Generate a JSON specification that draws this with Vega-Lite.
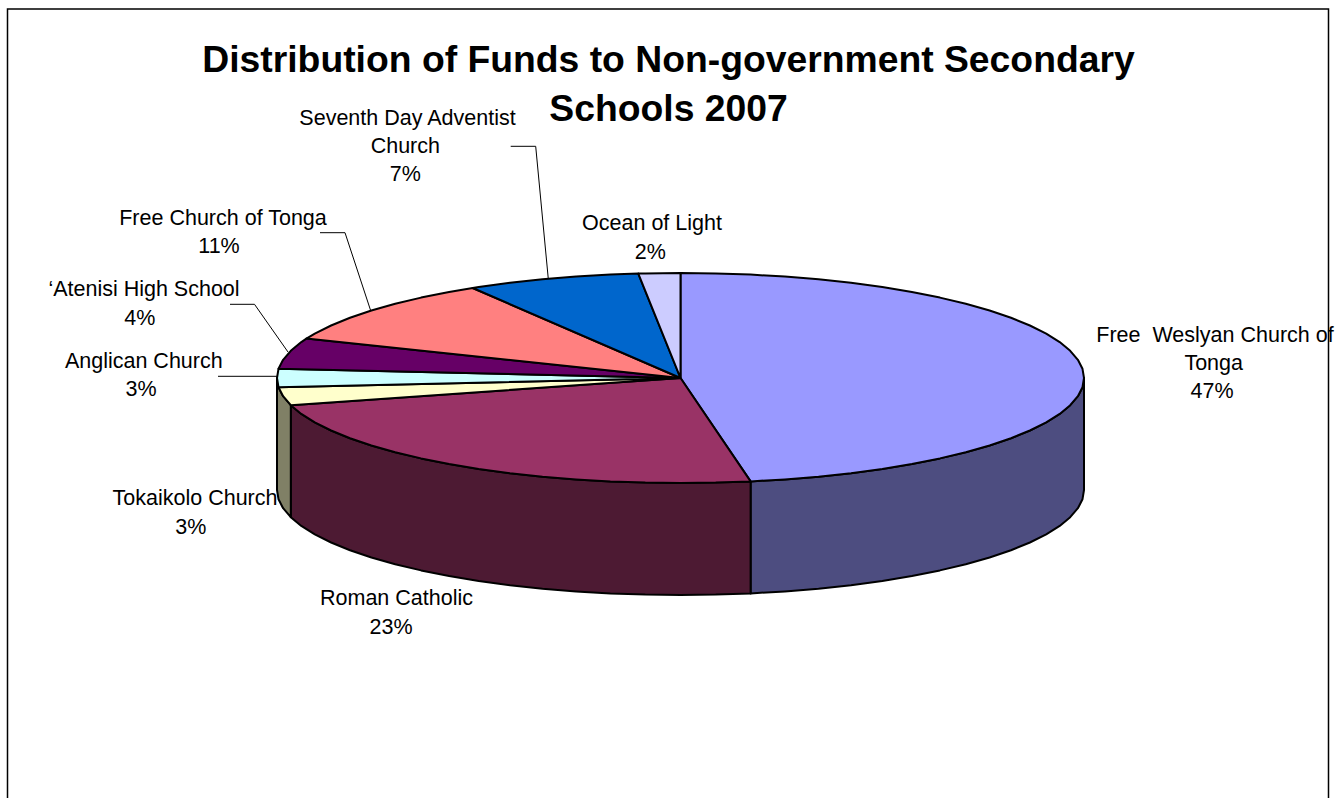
{"$schema":"https://vega.github.io/schema/vega-lite/v6.json","width":1341,"height":798,"padding":0,"autosize":"none","background":"white","config":{"view":{"stroke":null},"font":"Liberation Sans"},"title":{"text":["Distribution of Funds to Non-government Secondary","Schools 2007"],"font":"Liberation Sans","fontSize":37.3,"fontWeight":"bold","color":"#000000","lineHeight":49,"anchor":"middle","baseline":"alphabetic","frame":"group","offset":0,"dy":158,"dx":-2},"resolve":{"scale":{"fill":"independent"}},"encoding":{"x":{"field":"x","type":"quantitative","scale":{"domain":[0,1341],"nice":false,"zero":false},"axis":null},"y":{"field":"y","type":"quantitative","stack":null,"scale":{"domain":[798,0],"nice":false,"zero":false},"axis":null}},"layer":[{"data":{"values":[{"x":7.5,"y":798,"i":1},{"x":7.5,"y":9,"i":2},{"x":1328.5,"y":9,"i":3},{"x":1328.5,"y":798,"i":4}]},"mark":{"type":"line","stroke":"#000000","strokeWidth":1.5},"encoding":{"order":{"field":"i"}}},
{"data":{"values":[
{"s":"Free Weslyan side","x":1084,"y":378,"y2":490},{"s":"Free Weslyan side","x":1082.5,"y":387.2,"y2":499.2},{"s":"Free Weslyan side","x":1077.9,"y":396.2,"y2":508.2},{"s":"Free Weslyan side","x":1070.2,"y":405.2,"y2":517.2},{"s":"Free Weslyan side","x":1059.7,"y":413.9,"y2":525.9},{"s":"Free Weslyan side","x":1046.2,"y":422.4,"y2":534.4},{"s":"Free Weslyan side","x":1029.9,"y":430.5,"y2":542.5},{"s":"Free Weslyan side","x":1011,"y":438.2,"y2":550.2},{"s":"Free Weslyan side","x":989.6,"y":445.5,"y2":557.5},{"s":"Free Weslyan side","x":965.8,"y":452.2,"y2":564.2},{"s":"Free Weslyan side","x":939.9,"y":458.4,"y2":570.4},{"s":"Free Weslyan side","x":911.9,"y":464,"y2":576},{"s":"Free Weslyan side","x":882.3,"y":468.9,"y2":580.9},{"s":"Free Weslyan side","x":851,"y":473.2,"y2":585.2},{"s":"Free Weslyan side","x":818.5,"y":476.7,"y2":588.7},{"s":"Free Weslyan side","x":784.9,"y":479.4,"y2":591.4},{"s":"Free Weslyan side","x":750.6,"y":481.4,"y2":593.4},
{"s":"Roman Catholic side","x":750.6,"y":481.4,"y2":593.4},{"s":"Roman Catholic side","x":715.7,"y":482.6,"y2":594.6},{"s":"Roman Catholic side","x":680.5,"y":483,"y2":595},{"s":"Roman Catholic side","x":645.3,"y":482.6,"y2":594.6},{"s":"Roman Catholic side","x":610.4,"y":481.4,"y2":593.4},{"s":"Roman Catholic side","x":576.1,"y":479.4,"y2":591.4},{"s":"Roman Catholic side","x":542.5,"y":476.7,"y2":588.7},{"s":"Roman Catholic side","x":510,"y":473.2,"y2":585.2},{"s":"Roman Catholic side","x":478.7,"y":468.9,"y2":580.9},{"s":"Roman Catholic side","x":449.1,"y":464,"y2":576},{"s":"Roman Catholic side","x":421.1,"y":458.4,"y2":570.4},{"s":"Roman Catholic side","x":395.2,"y":452.2,"y2":564.2},{"s":"Roman Catholic side","x":371.4,"y":445.5,"y2":557.5},{"s":"Roman Catholic side","x":350,"y":438.2,"y2":550.2},{"s":"Roman Catholic side","x":331.1,"y":430.5,"y2":542.5},{"s":"Roman Catholic side","x":314.8,"y":422.4,"y2":534.4},{"s":"Roman Catholic side","x":301.3,"y":413.9,"y2":525.9},{"s":"Roman Catholic side","x":290.8,"y":405.2,"y2":517.2},
{"s":"Tokaikolo side","x":290.8,"y":405.2,"y2":517.2},{"s":"Tokaikolo side","x":283.1,"y":396.2,"y2":508.2},{"s":"Tokaikolo side","x":278.5,"y":387.2,"y2":499.2},{"s":"Tokaikolo side","x":277,"y":378,"y2":490}
]},"mark":{"type":"area","stroke":"#000000","strokeWidth":2,"strokeJoin":"round"},"encoding":{"y2":{"field":"y2"},"fill":{"field":"s","type":"nominal","scale":{"domain":["Free Weslyan side","Roman Catholic side","Tokaikolo side"],"range":["#4D4D80","#4D1A33","#808066"]},"legend":null}}},
{"data":{"values":[
{"s":"Free Weslyan Church of Tonga","i":0,"x":680.5,"y":378},{"s":"Free Weslyan Church of Tonga","i":1,"x":680.5,"y":273},{"s":"Free Weslyan Church of Tonga","i":2,"x":715.7,"y":273.4},{"s":"Free Weslyan Church of Tonga","i":3,"x":750.6,"y":274.6},{"s":"Free Weslyan Church of Tonga","i":4,"x":784.9,"y":276.6},{"s":"Free Weslyan Church of Tonga","i":5,"x":818.5,"y":279.3},{"s":"Free Weslyan Church of Tonga","i":6,"x":851,"y":282.8},{"s":"Free Weslyan Church of Tonga","i":7,"x":882.3,"y":287.1},{"s":"Free Weslyan Church of Tonga","i":8,"x":911.9,"y":292},{"s":"Free Weslyan Church of Tonga","i":9,"x":939.9,"y":297.6},{"s":"Free Weslyan Church of Tonga","i":10,"x":965.8,"y":303.8},{"s":"Free Weslyan Church of Tonga","i":11,"x":989.6,"y":310.5},{"s":"Free Weslyan Church of Tonga","i":12,"x":1011,"y":317.8},{"s":"Free Weslyan Church of Tonga","i":13,"x":1029.9,"y":325.5},{"s":"Free Weslyan Church of Tonga","i":14,"x":1046.2,"y":333.6},{"s":"Free Weslyan Church of Tonga","i":15,"x":1059.7,"y":342.1},{"s":"Free Weslyan Church of Tonga","i":16,"x":1070.2,"y":350.8},{"s":"Free Weslyan Church of Tonga","i":17,"x":1077.9,"y":359.8},{"s":"Free Weslyan Church of Tonga","i":18,"x":1082.5,"y":368.8},{"s":"Free Weslyan Church of Tonga","i":19,"x":1084,"y":378},{"s":"Free Weslyan Church of Tonga","i":20,"x":1082.5,"y":387.2},{"s":"Free Weslyan Church of Tonga","i":21,"x":1077.9,"y":396.2},{"s":"Free Weslyan Church of Tonga","i":22,"x":1070.2,"y":405.2},{"s":"Free Weslyan Church of Tonga","i":23,"x":1059.7,"y":413.9},{"s":"Free Weslyan Church of Tonga","i":24,"x":1046.2,"y":422.4},{"s":"Free Weslyan Church of Tonga","i":25,"x":1029.9,"y":430.5},{"s":"Free Weslyan Church of Tonga","i":26,"x":1011,"y":438.2},{"s":"Free Weslyan Church of Tonga","i":27,"x":989.6,"y":445.5},{"s":"Free Weslyan Church of Tonga","i":28,"x":965.8,"y":452.2},{"s":"Free Weslyan Church of Tonga","i":29,"x":939.9,"y":458.4},{"s":"Free Weslyan Church of Tonga","i":30,"x":911.9,"y":464},{"s":"Free Weslyan Church of Tonga","i":31,"x":882.3,"y":468.9},{"s":"Free Weslyan Church of Tonga","i":32,"x":851,"y":473.2},{"s":"Free Weslyan Church of Tonga","i":33,"x":818.5,"y":476.7},{"s":"Free Weslyan Church of Tonga","i":34,"x":784.9,"y":479.4},{"s":"Free Weslyan Church of Tonga","i":35,"x":750.6,"y":481.4},{"s":"Free Weslyan Church of Tonga","i":36,"x":680.5,"y":378},
{"s":"Roman Catholic","i":0,"x":680.5,"y":378},{"s":"Roman Catholic","i":1,"x":750.6,"y":481.4},{"s":"Roman Catholic","i":2,"x":715.7,"y":482.6},{"s":"Roman Catholic","i":3,"x":680.5,"y":483},{"s":"Roman Catholic","i":4,"x":645.3,"y":482.6},{"s":"Roman Catholic","i":5,"x":610.4,"y":481.4},{"s":"Roman Catholic","i":6,"x":576.1,"y":479.4},{"s":"Roman Catholic","i":7,"x":542.5,"y":476.7},{"s":"Roman Catholic","i":8,"x":510,"y":473.2},{"s":"Roman Catholic","i":9,"x":478.7,"y":468.9},{"s":"Roman Catholic","i":10,"x":449.1,"y":464},{"s":"Roman Catholic","i":11,"x":421.1,"y":458.4},{"s":"Roman Catholic","i":12,"x":395.2,"y":452.2},{"s":"Roman Catholic","i":13,"x":371.4,"y":445.5},{"s":"Roman Catholic","i":14,"x":350,"y":438.2},{"s":"Roman Catholic","i":15,"x":331.1,"y":430.5},{"s":"Roman Catholic","i":16,"x":314.8,"y":422.4},{"s":"Roman Catholic","i":17,"x":301.3,"y":413.9},{"s":"Roman Catholic","i":18,"x":290.8,"y":405.2},{"s":"Roman Catholic","i":19,"x":680.5,"y":378},
{"s":"Tokaikolo Church","i":0,"x":680.5,"y":378},{"s":"Tokaikolo Church","i":1,"x":290.8,"y":405.2},{"s":"Tokaikolo Church","i":2,"x":283.1,"y":396.2},{"s":"Tokaikolo Church","i":3,"x":278.5,"y":387.2},{"s":"Tokaikolo Church","i":4,"x":680.5,"y":378},
{"s":"Anglican Church","i":0,"x":680.5,"y":378},{"s":"Anglican Church","i":1,"x":278.5,"y":387.2},{"s":"Anglican Church","i":2,"x":277,"y":378},{"s":"Anglican Church","i":3,"x":278.5,"y":368.8},{"s":"Anglican Church","i":4,"x":680.5,"y":378},
{"s":"Atenisi High School","i":0,"x":680.5,"y":378},{"s":"Atenisi High School","i":1,"x":278.5,"y":368.8},{"s":"Atenisi High School","i":2,"x":283.1,"y":359.8},{"s":"Atenisi High School","i":3,"x":290.8,"y":350.8},{"s":"Atenisi High School","i":4,"x":301.3,"y":342.1},{"s":"Atenisi High School","i":5,"x":306.4,"y":338.6},{"s":"Atenisi High School","i":6,"x":680.5,"y":378},
{"s":"Free Church of Tonga","i":0,"x":680.5,"y":378},{"s":"Free Church of Tonga","i":1,"x":306.4,"y":338.6},{"s":"Free Church of Tonga","i":2,"x":314.8,"y":333.6},{"s":"Free Church of Tonga","i":3,"x":331.1,"y":325.5},{"s":"Free Church of Tonga","i":4,"x":350,"y":317.8},{"s":"Free Church of Tonga","i":5,"x":371.4,"y":310.5},{"s":"Free Church of Tonga","i":6,"x":395.2,"y":303.8},{"s":"Free Church of Tonga","i":7,"x":421.1,"y":297.6},{"s":"Free Church of Tonga","i":8,"x":449.1,"y":292},{"s":"Free Church of Tonga","i":9,"x":472.7,"y":288},{"s":"Free Church of Tonga","i":10,"x":680.5,"y":378},
{"s":"Seventh Day Adventist Church","i":0,"x":680.5,"y":378},{"s":"Seventh Day Adventist Church","i":1,"x":472.7,"y":288},{"s":"Seventh Day Adventist Church","i":2,"x":478.7,"y":287.1},{"s":"Seventh Day Adventist Church","i":3,"x":510,"y":282.8},{"s":"Seventh Day Adventist Church","i":4,"x":542.5,"y":279.3},{"s":"Seventh Day Adventist Church","i":5,"x":576.1,"y":276.6},{"s":"Seventh Day Adventist Church","i":6,"x":610.4,"y":274.6},{"s":"Seventh Day Adventist Church","i":7,"x":638.3,"y":273.6},{"s":"Seventh Day Adventist Church","i":8,"x":680.5,"y":378},
{"s":"Ocean of Light","i":0,"x":680.5,"y":378},{"s":"Ocean of Light","i":1,"x":638.3,"y":273.6},{"s":"Ocean of Light","i":2,"x":645.3,"y":273.4},{"s":"Ocean of Light","i":3,"x":680.5,"y":273},{"s":"Ocean of Light","i":4,"x":680.5,"y":378}
]},"mark":{"type":"line","stroke":"#000000","strokeWidth":2,"strokeJoin":"round"},"encoding":{"order":{"field":"i"},"fill":{"field":"s","type":"nominal","scale":{"domain":["Free Weslyan Church of Tonga","Roman Catholic","Tokaikolo Church","Anglican Church","Atenisi High School","Free Church of Tonga","Seventh Day Adventist Church","Ocean of Light"],"range":["#9999FF","#993366","#FFFFCC","#CCFFFF","#660066","#FF8080","#0066CC","#CCCCFF"]},"legend":null}}},
{"data":{"values":[
{"s":"Seventh Day Adventist","i":1,"x":510.7,"y":146.3},{"s":"Seventh Day Adventist","i":2,"x":535.7,"y":146.3},{"s":"Seventh Day Adventist","i":3,"x":548.3,"y":279},
{"s":"Free Church","i":1,"x":320,"y":232.7},{"s":"Free Church","i":2,"x":345,"y":232.7},{"s":"Free Church","i":3,"x":370.7,"y":310.7},
{"s":"Atenisi","i":1,"x":230,"y":304.3},{"s":"Atenisi","i":2,"x":254.5,"y":304.3},{"s":"Atenisi","i":3,"x":288,"y":352},
{"s":"Anglican","i":1,"x":218,"y":376.3},{"s":"Anglican","i":2,"x":277,"y":376.3}
]},"mark":{"type":"line","stroke":"#000000","strokeWidth":1},"encoding":{"order":{"field":"i"},"detail":{"field":"s"}}},
{"data":{"values":[
{"t":"Seventh Day Adventist","x":407.5,"y":125},{"t":"Church","x":405.3,"y":153},{"t":"7%","x":405.3,"y":181},
{"t":"Free Church of Tonga","x":223,"y":225},{"t":"11%","x":219,"y":253},
{"t":"Ocean of Light","x":652,"y":230},{"t":"2%","x":650.3,"y":259},
{"t":"‘Atenisi High School","x":144,"y":296},{"t":"4%","x":139.7,"y":325},
{"t":"Anglican Church","x":143.8,"y":368},{"t":"3%","x":141,"y":396},
{"t":"Tokaikolo Church","x":195,"y":505},{"t":"3%","x":190.7,"y":534},
{"t":"Roman Catholic","x":396.5,"y":605},{"t":"23%","x":391,"y":634},
{"t":"Free \u00a0Weslyan Church of","x":1215,"y":342},{"t":"Tonga","x":1213.7,"y":370},{"t":"47%","x":1212,"y":398}
]},"mark":{"type":"text","font":"Liberation Sans","fontSize":21.5,"align":"center","baseline":"alphabetic","color":"#000000"},"encoding":{"text":{"field":"t"}}}
]}
